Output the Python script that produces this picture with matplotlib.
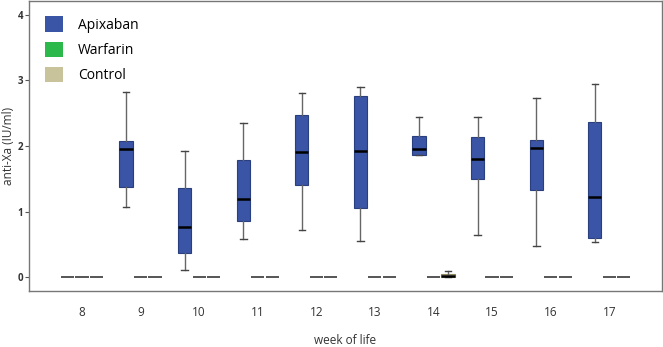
import matplotlib
matplotlib.use('Agg')
import matplotlib.pyplot as plt
from matplotlib.patches import Patch

plt.rcParams['font.family'] = ['Open Sans', 'DejaVu Sans']

# weeks of life
weeks = ['8', '9', '10', '11', '12', '13', '14', '15', '16', '17']

# Apixaban boxes: whisker low, Q1, median, Q3, whisker high
apix_lo = [0, 1.07, 0.10, 0.58, 0.72, 0.55, 1.87, 0.64, 0.48, 0.54]
apix_q1 = [0, 1.37, 0.37, 0.86, 1.40, 1.06, 1.87, 1.49, 1.33, 0.60]
apix_med = [0, 1.95, 0.77, 1.19, 1.91, 1.92, 1.95, 1.80, 1.97, 1.22]
apix_q3 = [0, 2.08, 1.36, 1.78, 2.48, 2.76, 2.16, 2.13, 2.09, 2.36]
apix_hi = [0, 2.83, 1.93, 2.35, 2.81, 2.90, 2.45, 2.45, 2.73, 2.95]

# Warfarin: all zero
warf_lo = [0] * 10
warf_q1 = [0] * 10
warf_med = [0] * 10
warf_q3 = [0] * 10
warf_hi = [0] * 10

# Control: zero except week 14
ctrl_lo = [0, 0, 0, 0, 0, 0, 0.00, 0, 0, 0]
ctrl_q1 = [0, 0, 0, 0, 0, 0, 0.00, 0, 0, 0]
ctrl_med = [0, 0, 0, 0, 0, 0, 0.02, 0, 0, 0]
ctrl_q3 = [0, 0, 0, 0, 0, 0, 0.045, 0, 0, 0]
ctrl_hi = [0, 0, 0, 0, 0, 0, 0.09, 0, 0, 0]

groups = ['Apixaban', 'Warfarin', 'Control']
colors = ['#3A55A5', '#2DB84B', '#C8C39B']
edge_colors = ['#2A3F80', '#1E8A36', '#8F8A60']
series = [
    (apix_lo, apix_q1, apix_med, apix_q3, apix_hi),
    (warf_lo, warf_q1, warf_med, warf_q3, warf_hi),
    (ctrl_lo, ctrl_q1, ctrl_med, ctrl_q3, ctrl_hi),
]

fig = plt.figure(figsize=(6.63, 3.47), dpi=100)
ax = fig.add_axes([0.0437, 0.1614, 0.9548, 0.8357])

offset = 0.247
width = 0.225
for g, (lo, q1, med, q3, hi) in enumerate(series):
    pos = [i + (g - 1) * offset for i in range(len(weeks))]
    for i in range(len(weeks)):
        st = [{'whislo': lo[i], 'q1': q1[i], 'med': med[i], 'q3': q3[i],
               'whishi': hi[i], 'fliers': []}]
        zero = hi[i] == 0 and lo[i] == 0
        if zero:
            # empty group: only a flat grey dash at 0
            ax.bxp(st, positions=[pos[i]], widths=width, patch_artist=True,
                   showfliers=False, showcaps=False, manage_ticks=False,
                   boxprops=dict(facecolor='none', edgecolor='none', linewidth=0),
                   medianprops=dict(color='#555555', linewidth=1.4),
                   whiskerprops=dict(linewidth=0))
            continue
        ax.bxp(st, positions=[pos[i]], widths=width, patch_artist=True,
               showfliers=False, manage_ticks=False,
               boxprops=dict(facecolor=colors[g], edgecolor=edge_colors[g], linewidth=0.8),
               medianprops=dict(color='black', linewidth=1.8),
               whiskerprops=dict(color='#666666', linewidth=1.0),
               capprops=dict(color='#444444', linewidth=1.0),
               capwidths=width * 0.5)

ax.set_xlim(-0.904, 9.90)
ax.set_ylim(-0.213, 4.213)
ax.set_xticks(range(len(weeks)))
ax.set_xticklabels(weeks, fontsize=8.5, color='#333333')
ax.tick_params(axis='x', length=0, pad=11)
ax.set_yticks([0, 1, 2, 3, 4])
ax.tick_params(axis='y', labelsize=7, length=3, width=0.8, color='#555555', pad=1)
for lab in ax.get_yticklabels():
    lab.set_fontweight('bold')
    lab.set_color('#333333')
for s in ax.spines.values():
    s.set_color('#777777')
    s.set_linewidth(1.0)

ax.set_xlabel('week of life', fontsize=8.5, color='#333333', labelpad=10.5)
ax.set_ylabel('anti-Xa (IU/ml)', fontsize=8.5, color='#333333', labelpad=2)

handles = [Patch(facecolor=c, edgecolor='none') for c in colors]
ax.legend(handles, groups, loc='upper left', frameon=False, fontsize=10,
          handlelength=1.25, handleheight=1.3, handletextpad=1.1,
          labelspacing=0.65, bbox_to_anchor=(0.006, 0.99))

fig.savefig('out.png', dpi=100)
